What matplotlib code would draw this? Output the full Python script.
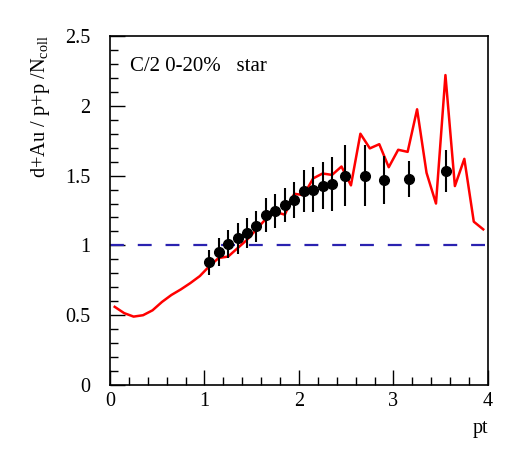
import numpy as np
import matplotlib.pyplot as plt
from matplotlib.ticker import MultipleLocator

plt.rcParams['font.family'] = ['Liberation Serif', 'DejaVu Serif']
plt.rcParams['mathtext.fontset'] = 'custom'
plt.rcParams['mathtext.rm'] = 'Liberation Serif'
plt.rcParams['lines.scale_dashes'] = False

# data points (pt, ratio, error)
pt_data = [1.05, 1.15, 1.25, 1.35, 1.45, 1.55, 1.65, 1.75, 1.85, 1.95,
           2.05, 2.15, 2.25, 2.35, 2.49, 2.70, 2.90, 3.16, 3.56]
ratio = [0.879, 0.95, 1.008, 1.05, 1.09, 1.137, 1.218, 1.246, 1.289, 1.327,
         1.387, 1.399, 1.428, 1.44, 1.50, 1.50, 1.47, 1.478, 1.53]
ratio_err = [0.09, 0.10, 0.10, 0.11, 0.105, 0.11, 0.12, 0.12, 0.12, 0.13,
             0.15, 0.16, 0.17, 0.19, 0.22, 0.22, 0.17, 0.13, 0.15]

# model curve
pt_model = [0.05, 0.15, 0.25, 0.35, 0.45, 0.55, 0.65, 0.75, 0.85, 0.95,
            1.05, 1.15, 1.25, 1.35, 1.45, 1.55, 1.65, 1.75, 1.85, 1.95,
            2.05, 2.15, 2.25, 2.35, 2.45, 2.55, 2.65, 2.75, 2.85, 2.95,
            3.05, 3.15, 3.25, 3.35, 3.45, 3.55, 3.65, 3.75, 3.85, 3.95]
model = [0.56, 0.515, 0.49, 0.50, 0.535, 0.595, 0.645, 0.685, 0.73, 0.78,
         0.85, 0.91, 0.92, 0.98, 1.04, 1.115, 1.19, 1.24, 1.22, 1.37,
         1.36, 1.48, 1.515, 1.505, 1.565, 1.43, 1.80, 1.695, 1.725, 1.56,
         1.685, 1.67, 1.975, 1.52, 1.30, 2.22, 1.425, 1.62, 1.17, 1.115]

fig = plt.figure(figsize=(5.23, 4.51), dpi=100)
ax = fig.add_axes([0.2103, 0.1463, 0.7227, 0.7739])

ax.axhline(1.0, color='#2a22b0', lw=1.6, dashes=(10, 10))
ax.plot(pt_model, model, color='#ff0000', lw=1.8)
ax.errorbar(pt_data, ratio, yerr=ratio_err, fmt='o', color='black',
            ms=7, elinewidth=1.5, capsize=0)

ax.set_xlim(0, 4)
ax.set_ylim(0, 2.5)
ax.xaxis.set_major_locator(MultipleLocator(1))
ax.xaxis.set_minor_locator(MultipleLocator(0.2))
ax.yaxis.set_minor_locator(MultipleLocator(0.1))
ax.set_yticks([0, 0.5, 1, 1.5, 2, 2.5])
ax.set_yticklabels(['0', '0.5', '1', '1.5', '2', '2.5'])
ax.tick_params(which='both', direction='in', top=False, right=False,
               labelsize=14.5, width=1)
ax.tick_params(which='major', length=11)
ax.tick_params(which='minor', length=6)
ax.tick_params(axis='y', pad=14)
ax.tick_params(axis='x', pad=5)
for s in ax.spines.values():
    s.set_linewidth(1.2)

ax.text(0.053, 0.914, 'C/2 0-20%   star', transform=ax.transAxes,
        fontsize=15, va='center', ha='left')
fig.text(41 / 523, 1 - 35 / 451, r'd+Au / p+p /N$_{\mathrm{coll}}$',
         rotation=90, va='top', ha='center', fontsize=14.7)
fig.text(488 / 523, 1 - 428 / 451, 'pt', ha='right', va='center', fontsize=14.5)

fig.savefig('out.png', dpi=100)
